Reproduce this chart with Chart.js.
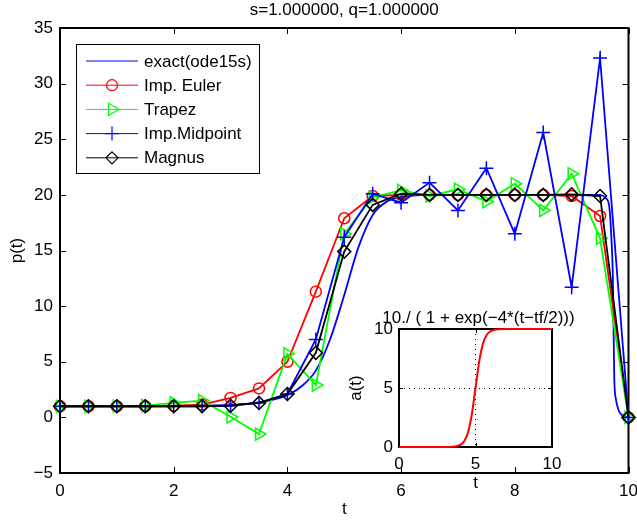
<!DOCTYPE html>
<html><head><meta charset="utf-8">
<script src="https://cdn.jsdelivr.net/npm/chart.js@4.4.1/dist/chart.umd.min.js"></script>
<style>
html,body{margin:0;padding:0;background:#fff;}
#wrap{position:relative;width:637px;height:525px;overflow:hidden;}
#main{position:absolute;left:0;top:0;}
#inset{position:absolute;left:340px;top:300px;}
</style></head><body>
<div id="wrap">
<canvas id="main" width="637" height="525"></canvas>
<canvas id="inset" width="271" height="200"></canvas>
</div>
<script>
// ---- data ----
const mainTitle = 's=1.000000, q=1.000000';
const seriesNames = ['exact(ode15s)', 'Imp. Euler', 'Trapez', 'Imp.Midpoint', 'Magnus'];
const stepTimes = [0,0.5,1,1.5,2,2.5,3,3.5,4,4.5,5,5.5,6,6.5,7,7.5,8,8.5,9,9.5,10];
const eulerValues    = [1,1,1,1,1.05,1.15,1.75,2.6,5.0,11.3,17.9,19.9,20,20,20,20,20,20,19.9,18.1,0];
const trapezValues   = [1,1,1,1.05,1.3,1.5,0.05,-1.5,5.7,2.9,16.5,19.8,20.4,19.9,20.5,19.4,21.0,18.6,21.9,16.1,0];
const midpointValues = [1,1,1,1,1,1,1.05,1.3,2.1,7.0,16.2,20.1,19.3,21.1,18.6,22.4,16.5,25.6,11.7,32.3,0];
const magnusValues   = [1,1,1,1,1,1,1.05,1.3,2.1,5.8,14.9,19.1,20.1,20,20,20,20,20,20.05,19.9,0];
const exactTimes  = [0,0.5,1,1.5,2,2.5,3,3.25,3.5,3.75,4,4.25,4.5,4.75,5,5.25,5.5,5.75,6,6.25,6.5,7,8,9,9.5,9.6,9.66,9.7,9.725,9.74,9.75,9.78,9.83,9.9,10];
const exactValues = [1,1,1,1,1.02,1.05,1.12,1.22,1.35,1.6,2.0,2.8,4.2,7.0,11.0,15.3,18.2,19.4,19.8,19.95,20,20,20,20,20,19.7,19.0,16.0,12.5,7.0,3.5,1.6,0.6,0.15,0];
const xTickStep = 2, yTickStep = 5;
const xRange = [0, 10], yRange = [-5, 35];

const insetTitle = '10./ ( 1 + exp(\u22124*(t\u2212tf/2)))';
const insetTimes  = [0,1,2,3,3.5,3.75,4,4.25,4.5,4.75,5,5.25,5.5,5.75,6,6.25,6.5,7,8,9,10];
const insetValues = [0,0,0,0,0.02,0.07,0.18,0.47,1.19,2.69,5.0,7.31,8.81,9.53,9.82,9.93,9.98,10,10,10,10];

// ---- helpers ----
const pts = (xs, ys) => xs.map((x, i) => ({x, y: ys[i]}));
const minus = v => String(v).replace('-', '\u2212');
const FONT = "'Liberation Sans', Arial, Helvetica, sans-serif";
Chart.defaults.font.family = FONT;
Chart.defaults.font.size = 17;
Chart.defaults.color = '#000';

function drawBoxTicks(chart, len, lw) {
  const {ctx, chartArea: a, scales} = chart;
  ctx.save();
  ctx.strokeStyle = '#000';
  ctx.lineWidth = lw;
  ctx.strokeRect(a.left, a.top, a.right - a.left, a.bottom - a.top);
  ctx.lineWidth = 1;
  ctx.beginPath();
  scales.x.ticks.forEach(t => {
    const px = Math.round(scales.x.getPixelForValue(t.value)) + 0.5;
    ctx.moveTo(px, a.bottom); ctx.lineTo(px, a.bottom - len);
    ctx.moveTo(px, a.top); ctx.lineTo(px, a.top + len);
  });
  scales.y.ticks.forEach(t => {
    const py = Math.round(scales.y.getPixelForValue(t.value)) + 0.5;
    ctx.moveTo(a.left, py); ctx.lineTo(a.left + len, py);
    ctx.moveTo(a.right, py); ctx.lineTo(a.right - len, py);
  });
  ctx.stroke();
  ctx.restore();
}

function drawMarker(ctx, style, x, y, r, color) {
  ctx.save();
  ctx.strokeStyle = color; ctx.lineWidth = 1.2;
  ctx.beginPath();
  if (style === 'circle') { ctx.arc(x, y, r, 0, Math.PI * 2); }
  else if (style === 'triangle') { ctx.moveTo(x + r, y); ctx.lineTo(x - r * 0.5, y - r * 0.87); ctx.lineTo(x - r * 0.5, y + r * 0.87); ctx.closePath(); }
  else if (style === 'cross') { ctx.moveTo(x - r, y); ctx.lineTo(x + r, y); ctx.moveTo(x, y - r); ctx.lineTo(x, y + r); }
  else if (style === 'rectRot') { ctx.moveTo(x, y - r); ctx.lineTo(x + r, y); ctx.lineTo(x, y + r); ctx.lineTo(x - r, y); ctx.closePath(); }
  ctx.stroke();
  ctx.restore();
}

const mainPlugin = {
  id: 'mainDeco',
  beforeDatasetsDraw(chart) { drawBoxTicks(chart, 6, 2); },
  afterDatasetsDraw(chart) {
    const {ctx, chartArea: a} = chart;
    const x0 = a.left + 16, y0 = a.top + 16, w = 183, h = 129;
    ctx.save();
    ctx.fillStyle = '#fff';
    ctx.fillRect(x0, y0, w, h);
    ctx.strokeStyle = '#000'; ctx.lineWidth = 1;
    ctx.strokeRect(x0 + 0.5, y0 + 0.5, w, h);
    ctx.font = '17px ' + FONT;
    ctx.textBaseline = 'middle';
    ctx.fillStyle = '#000';
    chart.data.datasets.forEach((ds, i) => {
      const y = y0 + 17 + i * 24.2;
      ctx.strokeStyle = ds.borderColor; ctx.lineWidth = 1;
      ctx.beginPath(); ctx.moveTo(x0 + 10, y); ctx.lineTo(x0 + 62, y); ctx.stroke();
      if (ds.legendMarker) drawMarker(ctx, ds.legendMarker, x0 + 36, y, ds.legendR, ds.borderColor);
      ctx.fillStyle = '#000';
      ctx.fillText(ds.label, x0 + 68, y + 1);
    });
    ctx.restore();
  }
};

const lineDs = (label, xs, ys, color, style, r, order, legendR) => ({
  label, data: pts(xs, ys), showLine: true, borderColor: color, borderWidth: 1.8,
  pointStyle: style, pointRadius: style ? r : 0, pointRotation: style === 'triangle' ? 90 : 0,
  pointBorderColor: color, pointBorderWidth: 1.5, pointBackgroundColor: 'rgba(0,0,0,0)',
  pointHoverRadius: style ? r : 0, clip: false, order, legendMarker: style, legendR,
  tension: 0
});

const exactDs = lineDs(seriesNames[0], exactTimes, exactValues, '#0000ff', null, 0, 5, 0);
exactDs.cubicInterpolationMode = 'monotone';

new Chart(document.getElementById('main'), {
  type: 'scatter',
  data: {
    datasets: [
      exactDs,
      lineDs(seriesNames[1], stepTimes, eulerValues, '#ff0000', 'circle', 5.5, 4, 5.5),
      lineDs(seriesNames[2], stepTimes, trapezValues, '#00ff00', 'triangle', 7, 3, 7),
      lineDs(seriesNames[3], stepTimes, midpointValues, '#0000ff', 'cross', 7, 2, 7),
      lineDs(seriesNames[4], stepTimes, magnusValues, '#000000', 'rectRot', 6.5, 1, 6)
    ]
  },
  options: {
    responsive: false, animation: false, devicePixelRatio: 1,
    layout: { padding: { left: 0, right: 8, top: 0, bottom: 0 } },
    plugins: {
      legend: { display: false }, tooltip: { enabled: false },
      title: { display: true, fullSize: false, text: mainTitle, font: { size: 17, weight: 'normal' }, color: '#000', padding: { top: 0, bottom: 7.6 } }
    },
    scales: {
      x: {
        type: 'linear', min: xRange[0], max: xRange[1],
        ticks: { stepSize: xTickStep, padding: 8, maxRotation: 0, font: { size: 17 }, color: '#000' },
        grid: { display: false, drawTicks: false }, border: { display: false },
        title: { display: true, text: 't', font: { size: 17 }, color: '#000', padding: { top: 0, bottom: 5 } },
        afterFit: s => { s.height = 52; s.paddingLeft = 0; s.paddingRight = 0; }
      },
      y: {
        type: 'linear', min: yRange[0], max: yRange[1],
        ticks: { stepSize: yTickStep, padding: 7, font: { size: 17 }, color: '#000', callback: v => minus(v) },
        grid: { display: false, drawTicks: false }, border: { display: false },
        title: { display: true, text: 'p(t)', font: { size: 17 }, color: '#000', padding: { top: 7, bottom: 0 } },
        afterFit: s => { s.width = 60; s.paddingTop = 0; s.paddingBottom = 0; }
      }
    }
  },
  plugins: [mainPlugin]
});

const insetPlugin = {
  id: 'insetDeco',
  beforeDraw(chart) {
    const {ctx, chartArea: a} = chart;
    ctx.save(); ctx.fillStyle = '#fff';
    ctx.fillRect(a.left, a.top, a.right - a.left, a.bottom - a.top);
    ctx.restore();
  },
  beforeDatasetsDraw(chart) { drawBoxTicks(chart, 4, 2); },
  afterDraw(chart) {
    const {ctx, chartArea: a} = chart;
    ctx.save();
    ctx.font = '17px ' + FONT;
    ctx.fillStyle = '#000';
    ctx.textAlign = 'center';
    ctx.textBaseline = 'middle';
    ctx.fillText(chart.options.insetTitleText, (a.left + a.right) / 2 + 3, a.top - 11);
    ctx.restore();
  }
};

new Chart(document.getElementById('inset'), {
  type: 'scatter',
  data: {
    datasets: [{
      label: 'a(t)', data: pts(insetTimes, insetValues), showLine: true,
      borderColor: '#ff0000', borderWidth: 2, pointRadius: 0, pointHoverRadius: 0,
      cubicInterpolationMode: 'monotone', clip: false
    }]
  },
  options: {
    insetTitleText: insetTitle,
    responsive: false, animation: false, devicePixelRatio: 1,
    layout: { padding: { left: 0, right: 59, top: 29, bottom: 0 } },
    plugins: {
      legend: { display: false }, tooltip: { enabled: false },
      title: { display: false }
    },
    scales: {
      x: {
        type: 'linear', min: 0, max: 10,
        ticks: { stepSize: 5, padding: 7, maxRotation: 0, font: { size: 17 }, color: '#000' },
        grid: { display: true, color: '#000', lineWidth: 1, drawTicks: false },
        border: { display: false, dash: [1, 4] },
        title: { display: true, text: 't', font: { size: 17 }, color: '#000', padding: { top: 0, bottom: 6 } },
        afterFit: s => { s.height = 53; s.paddingLeft = 0; s.paddingRight = 0; }
      },
      y: {
        type: 'linear', min: 0, max: 10,
        ticks: { stepSize: 5, padding: 6, font: { size: 17 }, color: '#000' },
        grid: { display: true, color: '#000', lineWidth: 1, drawTicks: false },
        border: { display: false, dash: [1, 4] },
        title: { display: true, text: 'a(t)', font: { size: 17 }, color: '#000', padding: { top: 6, bottom: 0 } },
        afterFit: s => { s.width = 59; s.paddingTop = 0; s.paddingBottom = 0; }
      }
    }
  },
  plugins: [insetPlugin]
});
</script>
</body></html>
